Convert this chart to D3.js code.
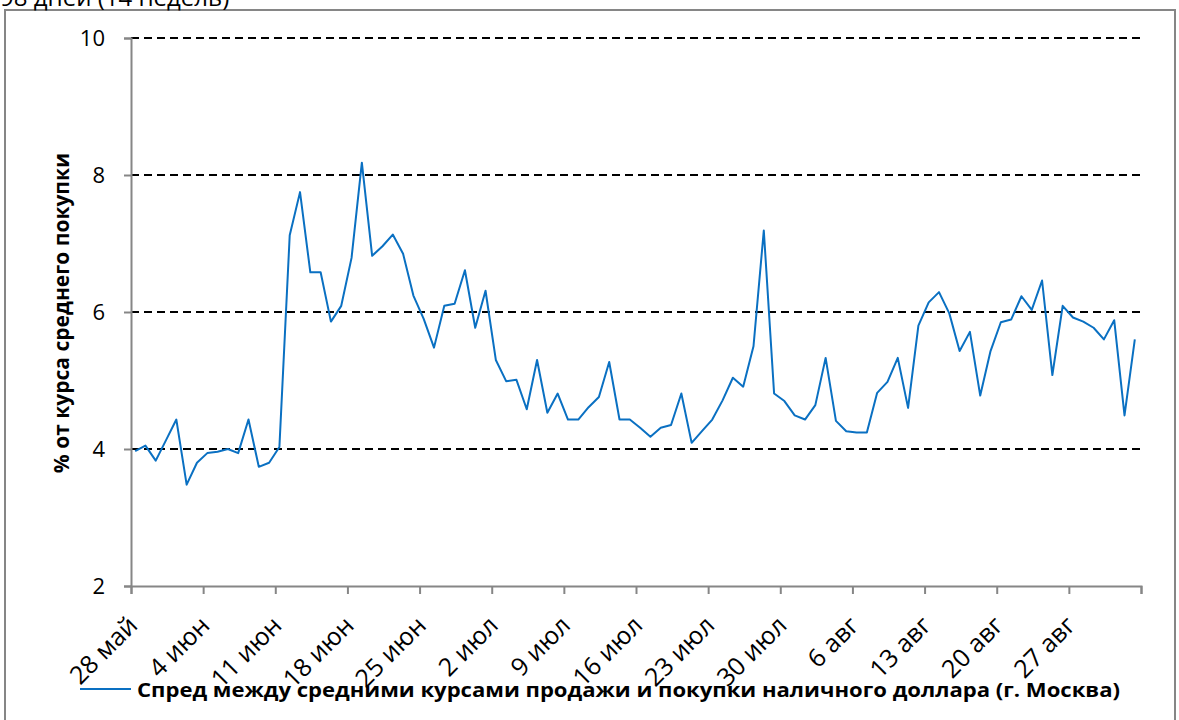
<!DOCTYPE html>
<html>
<head>
<meta charset="utf-8">
<script src="https://cdn.jsdelivr.net/npm/d3@7"></script>
<style>
  body { margin: 0; background: #fff; }
  svg { display: block; }
</style>
</head>
<body>
<div id="chart"></div>
<script>
let WIDTH = 1179;
let HEIGHT = 720;

// spread values, one per day starting 28 May (98 days)
const spread = [
  3.97, 4.05, 3.83, 4.13, 4.43, 3.48, 3.80, 3.94, 3.96, 4.00,
  3.94, 4.43, 3.74, 3.80, 4.03, 7.12, 7.75, 6.58, 6.58, 5.86,
  6.09, 6.79, 8.18, 6.82, 6.96, 7.13, 6.85, 6.24, 5.90, 5.48,
  6.09, 6.12, 6.61, 5.77, 6.31, 5.30, 4.99, 5.01, 4.58, 5.30,
  4.53, 4.81, 4.43, 4.43, 4.61, 4.76, 5.27, 4.43, 4.43, 4.31,
  4.18, 4.31, 4.35, 4.81, 4.09, 4.26, 4.43, 4.71, 5.04, 4.91,
  5.50, 7.19, 4.81, 4.70, 4.49, 4.43, 4.64, 5.33, 4.41, 4.26,
  4.24, 4.24, 4.82, 4.98, 5.33, 4.60, 5.80, 6.14, 6.29, 5.98,
  5.43, 5.71, 4.78, 5.43, 5.85, 5.89, 6.23, 6.03, 6.46, 5.08,
  6.09, 5.92, 5.86, 5.77, 5.60, 5.88, 4.49, 5.60
];

// week ticks (day index) and their labels
const tickDays = [0, 7, 14, 21, 28, 35, 42, 49, 56, 63, 70, 77, 84, 91, 98];
const tickLabels = ['28 май', '4 июн', '11 июн', '18 июн', '25 июн', '2 июл', '9 июл',
  '16 июл', '23 июл', '30 июл', '6 авг', '13 авг', '20 авг', '27 авг'];
const yTicks = [2, 4, 6, 8, 10];

const titleText = '98 дней (14 недель)';
const yTitle = '% от курса среднего покупки';
const legendText = 'Спред между средними курсами  продажи и покупки  наличного  доллара (г. Москва)';

const FONT = '"Open Sans", "Noto Sans", sans-serif';
const BLUE = '#0a70c2';
const AXIS = '#868686';

const svg = d3.select('#chart').append('svg')
    .attr('width', WIDTH).attr('height', HEIGHT);

// chart frame
svg.append('rect').attr('x', 5).attr('y', 10)
    .attr('width', 1170).attr('height', 800)
    .attr('fill', 'none').attr('stroke', AXIS).attr('stroke-width', 2);

// cut-off title at the top
svg.append('text').attr('x', 0).attr('y', 6)
    .attr('font-family', FONT).attr('font-size', 24)
    .text(titleText);

const x = d3.scaleLinear().domain([0, 98]).range([131, 1141]);
const y = d3.scaleLinear().domain([2, 10]).range([586, 38]);

// dashed grid lines
svg.append('g').selectAll('line').data(yTicks.filter(d => d > 2)).join('line')
    .attr('x1', x(0)).attr('x2', x(98))
    .attr('y1', d => y(d)).attr('y2', d => y(d))
    .attr('stroke', '#000').attr('stroke-width', 2)
    .attr('stroke-dasharray', '8,5');

// y axis
const gy = svg.append('g').attr('transform', `translate(${x(0)},0)`)
    .call(d3.axisLeft(y).tickValues(yTicks).tickSize(7).tickPadding(19).tickFormat(d3.format('d')));
gy.select('.domain').attr('stroke', AXIS).attr('stroke-width', 2);
gy.selectAll('.tick line').attr('stroke', AXIS).attr('stroke-width', 2);
gy.selectAll('.tick text').attr('font-family', FONT).attr('font-size', 22).attr('fill', '#000');

// x axis
const gx = svg.append('g').attr('transform', `translate(0,${y(2)})`)
    .call(d3.axisBottom(x).tickValues(tickDays).tickSize(8).tickFormat(''));
gx.select('.domain').attr('stroke', AXIS).attr('stroke-width', 2);
gx.selectAll('.tick line').attr('stroke', AXIS).attr('stroke-width', 2);

// rotated date labels, text ends just right of its tick
svg.append('g').selectAll('text').data(tickLabels).join('text')
    .attr('text-anchor', 'end')
    .attr('transform', (d, i) => `translate(${x(tickDays[i]) + 8},${y(2) + 41}) rotate(-45)`)
    .attr('font-family', FONT).attr('font-size', 25)
    .text(d => d);

// y axis title
svg.append('text')
    .attr('transform', 'translate(69,313) rotate(-90)')
    .attr('text-anchor', 'middle')
    .attr('font-family', FONT).attr('font-size', 21).attr('font-weight', 'bold')
    .text(yTitle);

// spread line
const line = d3.line()
    .x((d, i) => x(i + 0.4))
    .y(d => y(d));

svg.append('path').datum(spread)
    .attr('d', line)
    .attr('fill', 'none').attr('stroke', BLUE).attr('stroke-width', 2)
    .attr('stroke-linejoin', 'round');

// legend
svg.append('line').attr('x1', 80).attr('x2', 131).attr('y1', 689).attr('y2', 689)
    .attr('stroke', BLUE).attr('stroke-width', 2);
svg.append('text').attr('x', 137).attr('y', 697)
    .attr('font-family', FONT).attr('font-size', 20).attr('font-weight', 'bold')
    .attr('textLength', 983).attr('lengthAdjust', 'spacingAndGlyphs')
    .text(legendText);
</script>
</body>
</html>
